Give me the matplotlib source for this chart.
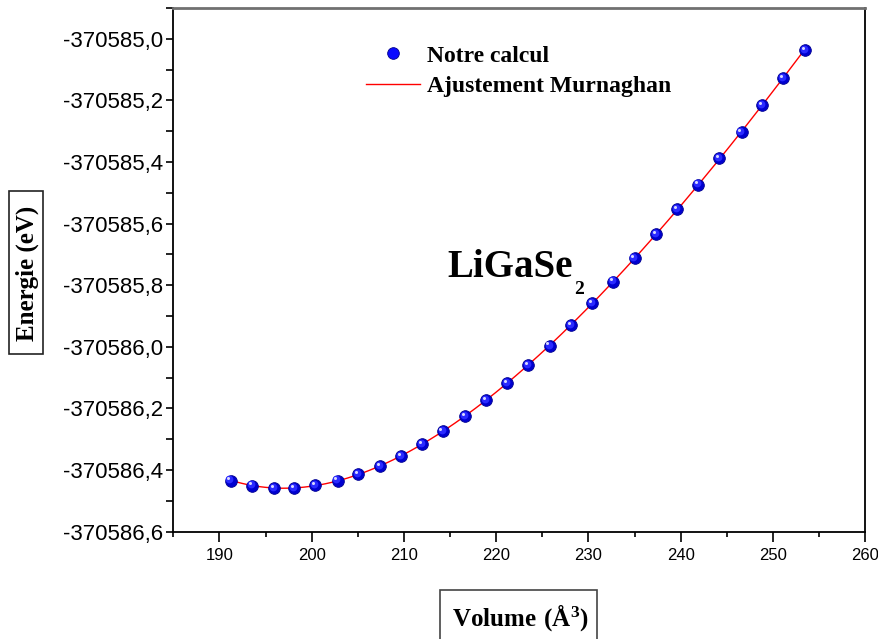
import numpy as np
import matplotlib
matplotlib.use("Agg")
import matplotlib.pyplot as plt
from matplotlib.ticker import MultipleLocator, FuncFormatter
from matplotlib.patches import Rectangle
from matplotlib.transforms import offset_copy

plt.rcParams['mathtext.fontset'] = 'custom'
plt.rcParams['mathtext.bf'] = 'Liberation Serif:bold'
plt.rcParams['mathtext.rm'] = 'Liberation Serif'

# volume (A^3) and total energy (eV)
volume = [191.2, 193.5, 195.9, 198.1, 200.4, 202.8, 205.0, 207.4, 209.7, 212.0,
          214.2, 216.6, 218.9, 221.2, 223.5, 225.8, 228.1, 230.4, 232.7, 235.0,
          237.3, 239.6, 241.9, 244.2, 246.6, 248.8, 251.1, 253.5]
energy = [-370586.434, -370586.450, -370586.459, -370586.458, -370586.448,
          -370586.434, -370586.413, -370586.387, -370586.354, -370586.316,
          -370586.273, -370586.226, -370586.174, -370586.118, -370586.060,
          -370585.996, -370585.930, -370585.859, -370585.788, -370585.712,
          -370585.635, -370585.554, -370585.473, -370585.388, -370585.303,
          -370585.216, -370585.127, -370585.036]

V = np.array(volume)
E = np.array(energy)
e_ref = E.mean()
dE = E - e_ref


def murnaghan_shape(v, v0, bp):
    return v / bp * ((v0 / v) ** bp / (bp - 1) + 1) - v0 / (bp - 1)


# Murnaghan fit: E0 and B0 are linear once V0 and B0' are fixed
best = None
for v0 in np.linspace(194, 202, 161):
    for bp in np.linspace(1.5, 9, 151):
        A = np.vstack((np.ones(len(V)), murnaghan_shape(V, v0, bp))).T
        coef, res, _, _ = np.linalg.lstsq(A, dE, rcond=None)
        r = np.sum((A @ coef - dE) ** 2)
        if best is None or r < best[0]:
            best = (r, v0, bp, coef)
_, v0, bp, coef = best
v_fit = np.linspace(V[0], V[-1], 400)
e_fit = coef[0] + coef[1] * murnaghan_shape(v_fit, v0, bp) + e_ref

fig = plt.figure(figsize=(8.79, 6.39), dpi=100)
ax = fig.add_axes([0.1972, 0.1679, 0.7870, 0.8196])

ax.plot(v_fit, e_fit, color="red", lw=1.0, zorder=2)

# shaded spheres for the calculated points
ax.plot(V, E, 'o', ms=8.4, color="#0000d0", mec="#000090", mew=0.6, zorder=3)
hl = offset_copy(ax.transData, fig=fig, x=-0.8, y=0.8, units='points')
ax.plot(V, E, 'o', ms=5.6, color="#2a2aff", mew=0, transform=hl, zorder=4)
hl2 = offset_copy(ax.transData, fig=fig, x=-1.6, y=1.7, units='points')
ax.plot(V, E, 'o', ms=2.2, color="#d8d8ff", mew=0, transform=hl2, zorder=5)

# legend drawn with a sphere-like handle
h_pt, = ax.plot([], [], 'o', ms=8.4, color="#0a0aff", mec="#00008a", mew=0.6)
h_ln, = ax.plot([], [], color="red", lw=1.0)
leg = ax.legend([h_pt, h_ln], ["Notre calcul", "Ajustement Murnaghan"],
                loc="upper left", bbox_to_anchor=(366 / 879, 1 - 45 / 639),
                bbox_transform=fig.transFigure, frameon=False,
                handlelength=2.3, handletextpad=0.3, labelspacing=0.38,
                borderpad=0, borderaxespad=0,
                prop={'family': 'Liberation Serif', 'weight': 'bold', 'size': 17})

ax.set_xlim(185, 260)
ax.set_ylim(-370586.6, -370584.9)
ax.xaxis.set_major_locator(MultipleLocator(10))
ax.xaxis.set_minor_locator(MultipleLocator(5))
ax.yaxis.set_major_locator(MultipleLocator(0.2))
ax.yaxis.set_minor_locator(MultipleLocator(0.1))
ax.yaxis.set_major_formatter(FuncFormatter(lambda v, p: f"{v:.1f}".replace('.', ',')))

ax.tick_params(axis='x', which='major', direction='out', length=7, width=1.2,
               pad=5, labelsize=12)
ax.tick_params(axis='x', which='minor', direction='out', length=3.5, width=1.2)
ax.tick_params(axis='y', which='both', direction='out', length=5, width=1.2,
               pad=2.5, labelsize=16)
for lab in ax.get_xticklabels() + ax.get_yticklabels():
    lab.set_family('Liberation Sans')

for side in ['left', 'bottom', 'right']:
    ax.spines[side].set_linewidth(1.3)
    ax.spines[side].set_color('black')
ax.spines['top'].set_linewidth(2.0)
ax.spines['top'].set_color('#707070')

# compound name
fig.text(447 / 879, 1 - 276.7 / 639, "LiGaSe", family='Liberation Serif',
         weight='bold', size=28, ha='left', va='baseline')
fig.text(574 / 879, 1 - 294 / 639, "2", family='Liberation Serif',
         weight='bold', size=14, ha='left', va='baseline')

# boxed axis titles
fig.text(27 / 879, 1 - 273 / 639, "Energie (eV)", family='Liberation Serif',
         weight='bold', size=18, rotation=90, ha='center', va='center')
fig.add_artist(Rectangle((9.3 / 879, 1 - 354.2 / 639), 34 / 879, 163.4 / 639,
                         transform=fig.transFigure, fill=False, lw=1.2, ec='#222222'))
fig.text(520 / 879, 1 - 626 / 639, r"$\mathbf{Volume\ (\AA^{3})}$",
         size=18, ha='center', va='baseline')
fig.add_artist(Rectangle((440 / 879, -0.02), 157.3 / 879, 49 / 639 + 0.02,
                         transform=fig.transFigure, fill=False, lw=1.2, ec='#444444'))

fig.savefig("out.png", dpi=100)
